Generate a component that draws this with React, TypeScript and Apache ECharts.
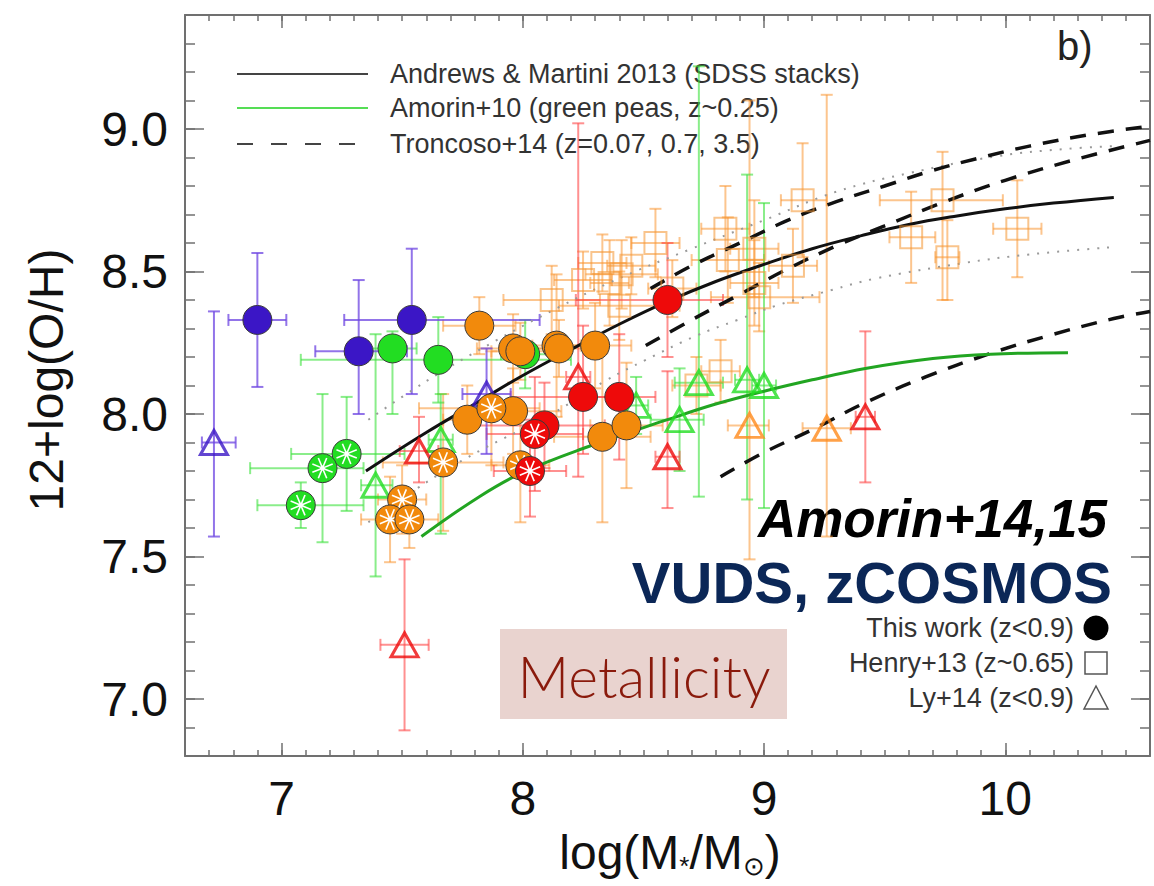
import React, { useEffect, useRef } from 'react';
import * as echarts from 'echarts';

const X_MIN = 6.6;
const X_MAX = 10.6;
const Y_MIN = 6.8;
const Y_MAX = 9.4;
const xTickLabels = [7, 8, 9, 10];
const yTickLabels = [7.0, 7.5, 8.0, 8.5, 9.0];

// Each point: [x, y, xMinus, xPlus, yMinus, yPlus]
const purpleCircles = [
  [6.90, 8.33, 0.12, 0.12, 0.235, 0.235],
  [7.32, 8.22, 0.18, 0.2, 0.22, 0.25],
  [7.54, 8.33, 0.28, 0.53, 0.26, 0.25],
];
const greenCircles = [
  [7.46, 8.23, 0.1, 0.1, 0.23, 0.06],
  [7.65, 8.19, 0.57, 0.55, 0.15, 0.15],
  [8.01, 8.21, 0.1, 0.1, 0.12, 0.12],
];
const greenStarCircles = [
  [7.27, 7.86, 0.23, 0.24, 0.2, 0.2],
  [7.17, 7.81, 0.3, 0.17, 0.26, 0.26],
  [7.08, 7.68, 0.18, 0.26, 0.08, 0.08],
];
const orangeCircles = [
  [7.82, 8.31, 0.15, 0.15, 0.1, 0.1],
  [7.77, 7.98, 0.1, 0.1, 0.12, 0.12],
  [7.96, 8.01, 0.2, 0.2, 0.15, 0.15],
  [7.96, 8.23, 0.15, 0.15, 0.12, 0.12],
  [7.99, 8.22, 0.12, 0.12, 0.1, 0.1],
  [8.14, 8.24, 0.1, 0.1, 0.25, 0.25],
  [8.15, 8.23, 0.2, 0.2, 0.1, 0.1],
  [8.30, 8.24, 0.15, 0.15, 0.15, 0.15],
  [8.33, 7.92, 0.2, 0.2, 0.3, 0.3],
  [8.43, 7.96, 0.15, 0.15, 0.22, 0.22],
];
const orangeStarCircles = [
  [7.67, 7.83, 0.25, 0.25, 0.24, 0.24],
  [7.50, 7.70, 0.1, 0.1, 0.12, 0.12],
  [7.45, 7.63, 0.12, 0.12, 0.15, 0.15],
  [7.53, 7.63, 0.12, 0.12, 0.1, 0.1],
  [7.87, 8.02, 0.3, 0.2, 0.2, 0.2],
  [7.99, 7.82, 0.12, 0.12, 0.2, 0.2],
];
const redCircles = [
  [8.09, 7.96, 0.3, 0.25, 0.15, 0.15],
  [8.60, 8.40, 0.38, 0.23, 0.2, 0.2],
  [8.25, 8.06, 0.3, 0.2, 0.2, 0.25],
  [8.40, 8.06, 0.15, 0.15, 0.22, 0.22],
];
const redStarCircles = [
  [8.05, 7.93, 0.2, 0.2, 0.2, 0.2],
  [8.03, 7.80, 0.15, 0.15, 0.16, 0.18],
];
const henrySquares = [
  [8.33, 8.53, 0.1, 0.1, 0.1, 0.1],
  [8.41, 8.49, 0.15, 0.15, 0.12, 0.12],
  [8.36, 8.46, 0.08, 0.08, 0.15, 0.15],
  [8.45, 8.52, 0.1, 0.1, 0.1, 0.1],
  [8.25, 8.47, 0.12, 0.12, 0.1, 0.1],
  [8.12, 8.40, 0.2, 0.2, 0.12, 0.12],
  [8.40, 8.38, 0.25, 0.25, 0.12, 0.12],
  [8.55, 8.60, 0.1, 0.1, 0.12, 0.12],
  [8.62, 8.44, 0.1, 0.1, 0.1, 0.1],
  [8.72, 8.10, 0.1, 0.1, 0.1, 0.1],
  [8.82, 8.15, 0.08, 0.08, 0.11, 0.11],
  [8.84, 8.65, 0.1, 0.1, 0.15, 0.15],
  [8.85, 8.54, 0.15, 0.15, 0.15, 0.15],
  [8.96, 8.58, 0.1, 0.1, 0.17, 0.17],
  [8.96, 8.46, 0.1, 0.1, 0.15, 0.15],
  [8.98, 8.41, 0.2, 0.25, 0.12, 0.12],
  [9.12, 8.52, 0.1, 0.1, 0.13, 0.13],
  [9.16, 8.75, 0.09, 0.1, 0.2, 0.2],
  [9.61, 8.62, 0.09, 0.1, 0.16, 0.16],
  [9.74, 8.75, 0.26, 0.25, 0.35, 0.17],
  [9.76, 8.55, 0.05, 0.05, 0.15, 0.13],
  [10.05, 8.65, 0.1, 0.1, 0.17, 0.17],
];
const purpleTriangles = [
  [6.72, 7.90, 0.05, 0.09, 0.33, 0.46],
  [7.85, 8.07, 0.1, 0.1, 0.21, 0.16],
];
const greenTriangles = [
  [7.39, 7.75, 0.06, 0.07, 0.32, 0.53],
  [7.66, 7.91, 0.05, 0.05, 0.33, 0.16],
  [8.47, 8.03, 0.05, 0.05, 0.1, 0.1],
  [8.65, 7.98, 0.12, 0.1, 0.18, 0.18],
  [8.73, 8.11, 0.1, 0.1, 0.4, 1.11],
  [8.93, 8.12, 0.05, 0.05, 0.42, 0.72],
  [9.00, 8.10, 0.05, 0.05, 0.43, 0.64],
];
const redTriangles = [
  [7.57, 7.87, 0.08, 0.08, 0.11, 0.12],
  [7.51, 7.19, 0.1, 0.1, 0.3, 0.3],
  [8.23, 8.13, 0.05, 0.05, 0.35, 0.89],
  [8.60, 7.85, 0.05, 0.05, 0.18, 0.3],
  [9.42, 7.99, 0.04, 0.04, 0.23, 0.3],
];
const orangeTriangles = [
  [8.94, 7.96, 0.09, 0.08, 0.47, 1.14],
  [9.26, 7.95, 0.1, 0.1, 0.38, 1.17],
];

// Relations [x, y]
const andrewsMartini = [
  [7.35, 7.80], [7.6, 7.935], [7.82, 8.045], [8.0, 8.135], [8.23, 8.24], [8.4, 8.315],
  [8.6, 8.395], [8.8, 8.465], [9.0, 8.525], [9.2, 8.58], [9.4, 8.625], [9.6, 8.665],
  [9.8, 8.695], [10.0, 8.72], [10.2, 8.74], [10.45, 8.76],
];
const amorin10 = [
  [7.58, 7.57], [7.82, 7.71], [8.0, 7.795], [8.27, 7.885], [8.6, 7.98], [8.8, 8.035],
  [9.0, 8.08], [9.2, 8.12], [9.42, 8.16], [9.7, 8.195], [9.94, 8.21], [10.26, 8.215],
];
const troncosoZ007 = [
  [8.53, 8.44], [8.7, 8.52], [8.9, 8.60], [9.1, 8.68], [9.3, 8.745], [9.5, 8.80],
  [9.7, 8.855], [9.9, 8.90], [10.1, 8.94], [10.35, 8.98], [10.6, 9.01],
];
const troncosoZ07 = [
  [8.51, 8.24], [8.7, 8.33], [8.9, 8.42], [9.1, 8.51], [9.3, 8.59], [9.5, 8.66],
  [9.75, 8.745], [10.0, 8.82], [10.3, 8.895], [10.6, 8.96],
];
const troncosoZ35 = [
  [8.82, 7.78], [9.0, 7.865], [9.2, 7.945], [9.42, 8.04], [9.67, 8.13], [9.93, 8.21],
  [10.18, 8.275], [10.45, 8.335], [10.6, 8.36],
];
const dottedUpper = [
  [7.36, 7.98], [7.6, 8.115], [7.82, 8.225], [8.07, 8.34], [8.37, 8.465], [8.7, 8.58],
  [9.0, 8.68], [9.3, 8.78], [9.6, 8.845], [9.97, 8.905], [10.25, 8.93], [10.45, 8.94],
];
const dottedLower = [
  [7.36, 7.62], [7.6, 7.76], [7.83, 7.875], [8.1, 7.99], [8.34, 8.115], [8.51, 8.19],
  [8.72, 8.275], [8.89, 8.33], [9.05, 8.38], [9.28, 8.435], [9.46, 8.475], [9.83, 8.53],
  [10.1, 8.56], [10.44, 8.585],
];

const FONT = 'Liberation Sans, Arial, Helvetica, sans-serif';

const PURPLE = '#3b16c6';
const GREEN = '#22dd22';
const ORANGE = '#f28a0c';
const RED = '#ee0a0a';
const E_PURPLE = 'rgba(110,70,225,0.75)';
const E_GREEN = 'rgba(60,225,60,0.6)';
const E_ORANGE = 'rgba(250,150,50,0.55)';
const E_RED = 'rgba(255,70,70,0.6)';

function errorBars(data: number[][], color: string) {
  return {
    type: 'custom',
    z: 2,
    silent: true,
    clip: true,
    data,
    encode: { x: 0, y: 1 },
    renderItem: (_p: any, api: any) => {
      const x = api.value(0);
      const y = api.value(1);
      const l = api.coord([x - api.value(2), y]);
      const r = api.coord([x + api.value(3), y]);
      const b = api.coord([x, y - api.value(4)]);
      const t = api.coord([x, y + api.value(5)]);
      const c = 6;
      const style = { stroke: color, lineWidth: 2 };
      const mk = (x1: number, y1: number, x2: number, y2: number) => ({
        type: 'line', shape: { x1, y1, x2, y2 }, style,
      });
      return {
        type: 'group',
        children: [
          mk(l[0], l[1], r[0], r[1]),
          mk(l[0], l[1] - c, l[0], l[1] + c),
          mk(r[0], r[1] - c, r[0], r[1] + c),
          mk(b[0], b[1], t[0], t[1]),
          mk(b[0] - c, b[1], b[0] + c, b[1]),
          mk(t[0] - c, t[1], t[0] + c, t[1]),
        ],
      };
    },
  };
}

function circles(data: number[][], color: string) {
  return {
    type: 'scatter',
    z: 5,
    silent: true,
    data: data.map((d) => [d[0], d[1]]),
    symbol: 'circle',
    symbolSize: 29,
    itemStyle: { color, borderColor: '#3a3a3a', borderWidth: 1, opacity: 1 },
  };
}

function starCircles(data: number[][], color: string) {
  return {
    type: 'custom',
    z: 6,
    silent: true,
    data: data.map((d) => [d[0], d[1]]),
    encode: { x: 0, y: 1 },
    renderItem: (_p: any, api: any) => {
      const p = api.coord([api.value(0), api.value(1)]);
      const children: any[] = [
        { type: 'circle', shape: { cx: p[0], cy: p[1], r: 14.5 }, style: { fill: color, stroke: '#3a3a3a', lineWidth: 1 } },
      ];
      for (let k = 0; k < 8; k++) {
        const a = (k * Math.PI) / 4 + Math.PI / 8;
        children.push({
          type: 'line',
          shape: { x1: p[0] + 2 * Math.cos(a), y1: p[1] + 2 * Math.sin(a), x2: p[0] + 11 * Math.cos(a), y2: p[1] + 11 * Math.sin(a) },
          style: { stroke: '#ffffff', lineWidth: 1.6 },
        });
      }
      children.push({ type: 'circle', shape: { cx: p[0], cy: p[1], r: 2.5 }, style: { fill: '#ffffff' } });
      return { type: 'group', children };
    },
  };
}

function triangles(data: number[][], color: string) {
  return {
    type: 'scatter',
    z: 4,
    silent: true,
    data: data.map((d) => [d[0], d[1]]),
    symbol: 'triangle',
    symbolSize: [27, 24],
    itemStyle: { color: 'rgba(255,255,255,0)', borderColor: color, borderWidth: 3 },
  };
}

function squares(data: number[][]) {
  return {
    type: 'scatter',
    z: 3,
    silent: true,
    data: data.map((d) => [d[0], d[1]]),
    symbol: 'rect',
    symbolSize: 22,
    itemStyle: { color: 'rgba(255,255,255,0)', borderColor: 'rgba(245,150,50,0.7)', borderWidth: 2 },
  };
}

function curve(data: number[][], color: string, width: number, type: any) {
  return {
    type: 'line',
    z: 3,
    silent: true,
    data,
    showSymbol: false,
    smooth: 0.4,
    lineStyle: { color, width, type },
  };
}

const axisLineStyle = { color: '#707070', width: 2 };
const tickStyle = { color: '#707070', width: 1.5 };

function xAxes() {
  const base = { type: 'value', min: X_MIN, max: X_MAX, splitLine: { show: false } };
  return [
    {
      ...base, position: 'bottom',
      axisLine: { show: true, onZero: false, lineStyle: axisLineStyle },
      axisTick: { show: true, inside: true, length: 13, customValues: xTickLabels, lineStyle: tickStyle },
      axisLabel: { show: true, customValues: xTickLabels, fontSize: 48, color: '#111', margin: 18, fontFamily: FONT },
    },
    {
      ...base, position: 'bottom', interval: 0.1,
      axisLine: { show: false },
      axisTick: { show: true, inside: true, length: 6, lineStyle: tickStyle },
      axisLabel: { show: false },
    },
    {
      ...base, position: 'top',
      axisLine: { show: true, onZero: false, lineStyle: axisLineStyle },
      axisTick: { show: true, inside: true, length: 13, customValues: xTickLabels, lineStyle: tickStyle },
      axisLabel: { show: false },
    },
    {
      ...base, position: 'top', interval: 0.1,
      axisLine: { show: false },
      axisTick: { show: true, inside: true, length: 6, lineStyle: tickStyle },
      axisLabel: { show: false },
    },
  ];
}

function yAxes() {
  const base = { type: 'value', min: Y_MIN, max: Y_MAX, splitLine: { show: false } };
  return [
    {
      ...base, position: 'left',
      axisLine: { show: true, onZero: false, lineStyle: axisLineStyle },
      axisTick: { show: true, inside: true, length: 19, customValues: yTickLabels, lineStyle: tickStyle },
      axisLabel: {
        show: true, customValues: yTickLabels, fontSize: 48, color: '#111', margin: 17, fontFamily: FONT,
        formatter: (v: number) => v.toFixed(1),
      },
    },
    {
      ...base, position: 'left', interval: 0.1,
      axisLine: { show: false },
      axisTick: { show: true, inside: true, length: 10, lineStyle: tickStyle },
      axisLabel: { show: false },
    },
    {
      ...base, position: 'right',
      axisLine: { show: true, onZero: false, lineStyle: axisLineStyle },
      axisTick: { show: true, inside: true, length: 19, customValues: yTickLabels, lineStyle: tickStyle },
      axisLabel: { show: false },
    },
    {
      ...base, position: 'right', interval: 0.1,
      axisLine: { show: false },
      axisTick: { show: true, inside: true, length: 10, lineStyle: tickStyle },
      axisLabel: { show: false },
    },
  ];
}

function graphics() {
  const legendText = (y: number, text: string) => ({
    type: 'text', x: 390, y, silent: true,
    style: { text, fill: '#333', font: `27px ${FONT}`, verticalAlign: 'middle', align: 'left' },
  });
  const rightText = (y: number, text: string) => ({
    type: 'text', x: 1074, y, silent: true,
    style: { text, fill: '#333', font: `27px ${FONT}`, verticalAlign: 'middle', align: 'right' },
  });
  return [
    { type: 'line', silent: true, shape: { x1: 237, y1: 74, x2: 368, y2: 74 }, style: { stroke: '#444', lineWidth: 2 } },
    { type: 'line', silent: true, shape: { x1: 237, y1: 108, x2: 368, y2: 108 }, style: { stroke: '#55dd55', lineWidth: 2 } },
    { type: 'line', silent: true, shape: { x1: 237, y1: 144, x2: 368, y2: 144 }, style: { stroke: '#444', lineWidth: 2, lineDash: [16, 18] } },
    legendText(74, 'Andrews & Martini 2013 (SDSS stacks)'),
    legendText(108, 'Amorin+10 (green peas, z~0.25)'),
    legendText(144, 'Troncoso+14 (z=0.07, 0.7, 3.5)'),
    {
      type: 'text', x: 1057, y: 46, silent: true,
      style: { text: 'b)', fill: '#222', font: `40px ${FONT}`, verticalAlign: 'middle', align: 'left' },
    },
    {
      type: 'text', x: 1107, y: 518, silent: true,
      style: { text: 'Amorin+14,15', fill: '#000', font: `italic bold 53px ${FONT}`, verticalAlign: 'middle', align: 'right' },
    },
    {
      type: 'text', x: 1112, y: 582, silent: true,
      style: { text: 'VUDS, zCOSMOS', fill: '#0b2757', font: `bold 58px ${FONT}`, verticalAlign: 'middle', align: 'right' },
    },
    rightText(628, 'This work (z<0.9)'),
    rightText(663, 'Henry+13 (z~0.65)'),
    rightText(698, 'Ly+14 (z<0.9)'),
    { type: 'circle', silent: true, shape: { cx: 1096, cy: 628, r: 12.5 }, style: { fill: '#000' } },
    { type: 'rect', silent: true, shape: { x: 1085, y: 652, width: 22, height: 22 }, style: { fill: 'none', stroke: '#555', lineWidth: 1.5 } },
    { type: 'polygon', silent: true, shape: { points: [[1096, 686], [1108, 709], [1084, 709]] }, style: { fill: 'none', stroke: '#555', lineWidth: 1.5 } },
    { type: 'rect', silent: true, shape: { x: 500, y: 629, width: 287, height: 90 }, style: { fill: '#e9d3cf' } },
    {
      type: 'text', x: 644, y: 676, silent: true,
      style: { text: 'Metallicity', fill: '#8a1a0c', font: `300 57px Lato, Roboto, ${FONT}`, verticalAlign: 'middle', align: 'center' },
    },
    {
      type: 'text', x: 46, y: 380, rotation: Math.PI / 2, silent: true,
      style: { text: '12+log(O/H)', fill: '#111', font: `48px ${FONT}`, verticalAlign: 'middle', align: 'center' },
    },
    {
      type: 'text', x: 670, y: 852, silent: true,
      style: {
        text: '{a|log(M}{s|*}{a|/M}{s|⊙}{a|)}',
        align: 'center', verticalAlign: 'middle',
        rich: {
          a: { fontSize: 48, fontFamily: FONT, fill: '#111', lineHeight: 54, verticalAlign: 'middle' },
          s: { fontSize: 26, fontFamily: FONT, fill: '#111', lineHeight: 26, verticalAlign: 'bottom' },
        },
      },
    },
  ];
}

export default function App() {
  const ref = useRef<HTMLDivElement>(null);
  useEffect(() => {
    if (!ref.current) return;
    const chart = echarts.init(ref.current, undefined, { renderer: 'svg' });
    const option: any = {
      animation: false,
      backgroundColor: '#ffffff',
      grid: { left: 185, right: 4, top: 15, bottom: 130, containLabel: false, outerBoundsMode: 'none' },
      xAxis: xAxes(),
      yAxis: yAxes(),
      series: [
        errorBars(henrySquares, E_ORANGE),
        errorBars(orangeTriangles, E_ORANGE),
        errorBars(orangeCircles, E_ORANGE),
        errorBars(orangeStarCircles, E_ORANGE),
        errorBars(greenCircles, E_GREEN),
        errorBars(greenStarCircles, E_GREEN),
        errorBars(greenTriangles, E_GREEN),
        errorBars(redCircles, E_RED),
        errorBars(redStarCircles, E_RED),
        errorBars(redTriangles, E_RED),
        errorBars(purpleCircles, E_PURPLE),
        errorBars(purpleTriangles, E_PURPLE),
        curve(dottedUpper, '#9a9a9a', 2, [2, 8]),
        curve(dottedLower, '#9a9a9a', 2, [2, 8]),
        curve(troncosoZ007, '#111', 3.5, [16, 12]),
        curve(troncosoZ07, '#111', 3.5, [16, 12]),
        curve(troncosoZ35, '#111', 3.5, [16, 12]),
        curve(andrewsMartini, '#111', 3, 'solid'),
        curve(amorin10, '#22a522', 3, 'solid'),
        squares(henrySquares),
        triangles(purpleTriangles, PURPLE),
        triangles(greenTriangles, GREEN),
        triangles(redTriangles, RED),
        triangles(orangeTriangles, '#ff8a1a'),
        circles(purpleCircles, PURPLE),
        circles(greenCircles, GREEN),
        circles(orangeCircles, ORANGE),
        circles(redCircles, RED),
        starCircles(greenStarCircles, GREEN),
        starCircles(orangeStarCircles, ORANGE),
        starCircles(redStarCircles, RED),
      ],
      graphic: graphics(),
    };
    chart.setOption(option);
    return () => chart.dispose();
  }, []);
  return (
    <div
      ref={ref}
      style={{ position: 'absolute', left: 0, top: 0, width: 1154, height: 886, background: '#fff' }}
    />
  );
}
